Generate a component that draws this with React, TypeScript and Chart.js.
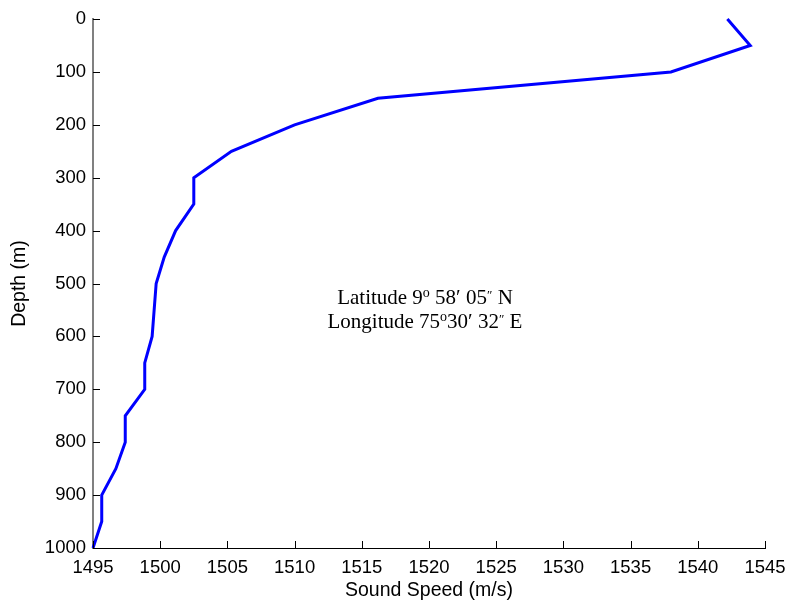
import React, { useEffect, useRef } from "react";
import { Chart, registerables } from "chart.js";

Chart.register(...registerables);

// Depth (m) and sound speed (m/s) profile
const depths = [0, 50, 100, 150, 200, 250, 300, 350, 400, 450, 500, 550, 600, 650, 700, 750, 800, 850, 900, 950, 1000];
const soundSpeeds = [
  1542.2, 1543.9, 1538.0, 1516.2, 1510.0, 1505.3, 1502.5, 1502.5, 1501.15, 1500.3, 1499.7,
  1499.55, 1499.4, 1498.85, 1498.85, 1497.4, 1497.4, 1496.7, 1495.65, 1495.65, 1495.0,
];

const xTickValues = [1495, 1500, 1505, 1510, 1515, 1520, 1525, 1530, 1535, 1540, 1545];
const yTickValues = [0, 100, 200, 300, 400, 500, 600, 700, 800, 900, 1000];

const xTitle = "Sound Speed (m/s)";
const yTitle = "Depth (m)";

// Annotation text, split into normal / superscript segments
const annotationLine1 = [
  { t: "Latitude 9", sup: false },
  { t: "o", sup: true },
  { t: " 58\u2032 05", sup: false },
  { t: "\u2033", sup: true },
  { t: " N", sup: false },
];
const annotationLine2 = [
  { t: "Longitude 75", sup: false },
  { t: "o", sup: true },
  { t: "30\u2032 32", sup: false },
  { t: "\u2033", sup: true },
  { t: " E", sup: false },
];
const annotationAnchor = { x: 1519.7, y: 539 }; // data coords of first baseline centre

const SANS = "'Liberation Sans', Arial, Helvetica, sans-serif";
const SERIF = "'Liberation Serif', 'Times New Roman', serif";

export default function App() {
  const ref = useRef<HTMLCanvasElement>(null);

  useEffect(() => {
    const canvas = ref.current!;

    const inwardTicks = {
      id: "inwardTicks",
      afterDraw(chart: any) {
        const { ctx, chartArea, scales } = chart;
        const len = 7;
        ctx.save();
        ctx.strokeStyle = "#000";
        ctx.lineWidth = 1;
        ctx.beginPath();
        for (const v of yTickValues) {
          const py = Math.round(scales.y.getPixelForValue(v)) + 0.5;
          ctx.moveTo(chartArea.left, py);
          ctx.lineTo(chartArea.left + len, py);
        }
        for (const v of xTickValues) {
          const px = Math.round(scales.x.getPixelForValue(v)) + 0.5;
          ctx.moveTo(px, chartArea.bottom);
          ctx.lineTo(px, chartArea.bottom - len);
        }
        ctx.stroke();
        ctx.restore();
      },
    };

    const annotation = {
      id: "latlonText",
      afterDraw(chart: any) {
        const { ctx, scales } = chart;
        const cx = scales.x.getPixelForValue(annotationAnchor.x);
        const by = scales.y.getPixelForValue(annotationAnchor.y);
        const normal = `21px ${SERIF}`;
        const supO = `14px ${SERIF}`;
        const supQ = `13px ${SERIF}`;
        ctx.save();
        ctx.fillStyle = "#000";
        ctx.textBaseline = "alphabetic";
        ctx.textAlign = "left";
        const fontFor = (s: any) => (s.sup ? (s.t === "o" ? supO : supQ) : normal);
        [annotationLine1, annotationLine2].forEach((segs, li) => {
          let w = 0;
          for (const s of segs) {
            ctx.font = fontFor(s);
            w += ctx.measureText(s.t).width;
          }
          let x = cx - w / 2;
          const y = by + li * 24;
          for (const s of segs) {
            ctx.font = fontFor(s);
            ctx.fillText(s.t, x, s.sup ? y - (s.t === "o" ? 7 : 5) : y);
            x += ctx.measureText(s.t).width;
          }
        });
        ctx.restore();
      },
    };

    const chart = new Chart(canvas, {
      type: "scatter",
      data: {
        datasets: [
          {
            data: depths.map((d, i) => ({ x: soundSpeeds[i], y: d })),
            showLine: true,
            borderColor: "#0000ff",
            backgroundColor: "#0000ff",
            borderWidth: 3,
            pointRadius: 0,
            fill: false,
            tension: 0,
            clip: 4,
          },
        ],
      },
      options: {
        responsive: false,
        animation: false,
        devicePixelRatio: 1,
        layout: { padding: { top: 19, right: 24, left: 0, bottom: 0 } },
        plugins: { legend: { display: false }, tooltip: { enabled: false } },
        scales: {
          x: {
            type: "linear",
            min: 1495,
            max: 1545,
            afterBuildTicks: (s: any) => {
              s.ticks = xTickValues.map((v) => ({ value: v }));
            },
            grid: { display: false, drawTicks: false },
            border: { display: true, color: "#000", width: 1 },
            ticks: {
              color: "#000",
              font: { family: SANS, size: 18.5 },
              padding: 9,
              maxRotation: 0,
              autoSkip: false,
              callback: (v: any) => String(v),
            },
            title: {
              display: true,
              text: xTitle,
              color: "#000",
              font: { family: SANS, size: 19.5 },
              padding: { top: 0, bottom: 4 },
            },
            afterFit: (s: any) => {
              s.height = 58;
              s.paddingLeft = 0;
              s.paddingRight = 0;
            },
          },
          y: {
            type: "linear",
            reverse: true,
            min: 0,
            max: 1000,
            afterBuildTicks: (s: any) => {
              s.ticks = yTickValues.map((v) => ({ value: v }));
            },
            grid: { display: false, drawTicks: false },
            border: { display: true, color: "#808080", width: 2 },
            ticks: {
              color: "#000",
              font: { family: SANS, size: 18.5 },
              padding: 7,
              autoSkip: false,
              callback: (v: any) => String(v),
            },
            title: {
              display: true,
              text: yTitle,
              color: "#000",
              font: { family: SANS, size: 19.5 },
              padding: { top: 8, bottom: 0 },
            },
            afterFit: (s: any) => {
              s.width = 93;
              s.paddingTop = 0;
              s.paddingBottom = 0;
            },
          },
        },
      },
      plugins: [inwardTicks, annotation],
    });

    return () => chart.destroy();
  }, []);

  return (
    <div style={{ position: "absolute", left: 0, top: 0, width: 789, height: 606, background: "#fff" }}>
      <canvas ref={ref} width={789} height={606} style={{ display: "block" }} />
    </div>
  );
}
